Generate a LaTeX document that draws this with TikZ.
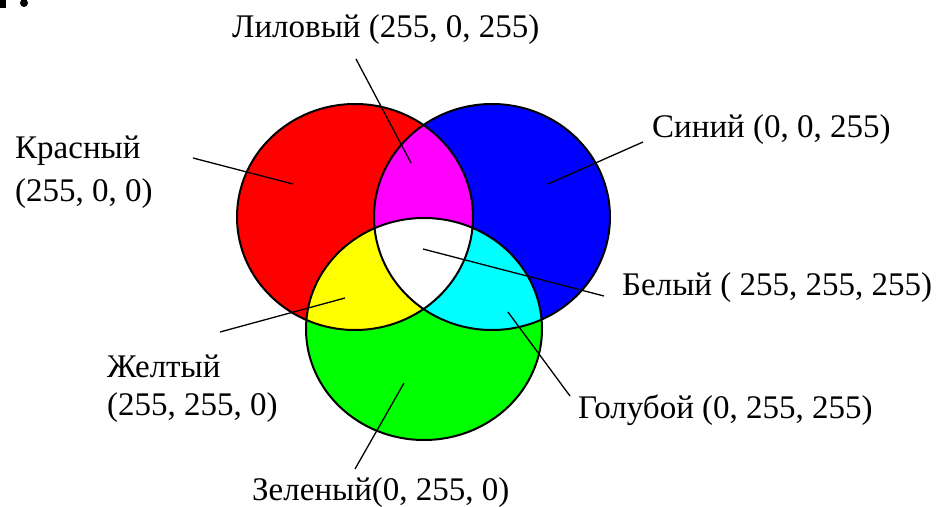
\documentclass[tikz,border=0pt]{standalone}
\usepackage{fontspec}
\setmainfont{Liberation Serif}
\definecolor{rgbred}{RGB}{255,0,0}
\definecolor{rgbgreen}{RGB}{0,255,0}
\definecolor{rgbblue}{RGB}{0,0,255}
\definecolor{rgbmagenta}{RGB}{255,0,255}
\definecolor{rgbyellow}{RGB}{255,255,0}
\definecolor{rgbcyan}{RGB}{0,255,255}
\begin{document}
\begin{tikzpicture}[x=1pt, y=-1pt,
  lbl/.style={font=\fontsize{33}{38}\selectfont, inner sep=0pt, anchor=base west, align=left},
  lead/.style={line width=1.3pt},
  rim/.style={line width=2pt}]
\useasboundingbox (0,0) rectangle (950,506);
% cut-off marks in the corner
\fill (0,0) rectangle (6,8);
\fill (24,3) circle [radius=4];
% the three discs
\fill[rgbred] (355,217) ellipse [x radius=118, y radius=113];
\fill[rgbblue] (492,217) ellipse [x radius=118, y radius=113];
\fill[rgbgreen] (424,329) ellipse [x radius=118, y radius=111];
\begin{scope}
\clip (492,217) ellipse [x radius=118, y radius=113];
\fill[rgbcyan] (424,329) ellipse [x radius=118, y radius=111];
\end{scope}
\begin{scope}
\clip (355,217) ellipse [x radius=118, y radius=113];
\fill[rgbmagenta] (492,217) ellipse [x radius=118, y radius=113];
\fill[rgbyellow] (424,329) ellipse [x radius=118, y radius=111];
\clip (492,217) ellipse [x radius=118, y radius=113];
\fill[white] (424,329) ellipse [x radius=118, y radius=111];
\end{scope}
\draw[rim] (355,217) ellipse [x radius=118, y radius=113];
\draw[rim] (492,217) ellipse [x radius=118, y radius=113];
\draw[rim] (424,329) ellipse [x radius=118, y radius=111];
% labels
\node[lbl] (lil) at (232,37) {Лиловый (255, 0, 255)};
\node[lbl, font=\fontsize{33}{43}\selectfont] (kra) at (15,201) {Красный\\(255, 0, 0)};
\node[lbl] (sin) at (652,137) {Синий (0, 0, 255)};
\node[lbl] (bel) at (622,295) {Белый ( 255, 255, 255)};
\node[lbl] (zhe) at (107,415) {Желтый\\(255, 255, 0)};
\node[lbl] (zel) at (252,500) {Зеленый(0, 255, 0)};
\node[lbl] (gol) at (578,418) {Голубой (0, 255, 255)};
% leader ends
\coordinate (lil-a) at (356,59);  \coordinate (lil-b) at (411,163);
\coordinate (kra-a) at (193,158); \coordinate (kra-b) at (293,184);
\coordinate (sin-a) at (643,142); \coordinate (sin-b) at (548,184);
\coordinate (bel-a) at (604,296); \coordinate (bel-b) at (423,249);
\coordinate (zhe-a) at (220,332); \coordinate (zhe-b) at (345,298);
\coordinate (zel-a) at (355,469); \coordinate (zel-b) at (404,383);
\coordinate (gol-a) at (570,396); \coordinate (gol-b) at (508,312);
\draw[lead] (lil-a) -- (lil-b);
\draw[lead] (kra-a) -- (kra-b);
\draw[lead] (sin-a) -- (sin-b);
\draw[lead] (bel-a) -- (bel-b);
\draw[lead] (zhe-a) -- (zhe-b);
\draw[lead] (zel-a) -- (zel-b);
\draw[lead] (gol-a) -- (gol-b);
\end{tikzpicture}
\end{document}
